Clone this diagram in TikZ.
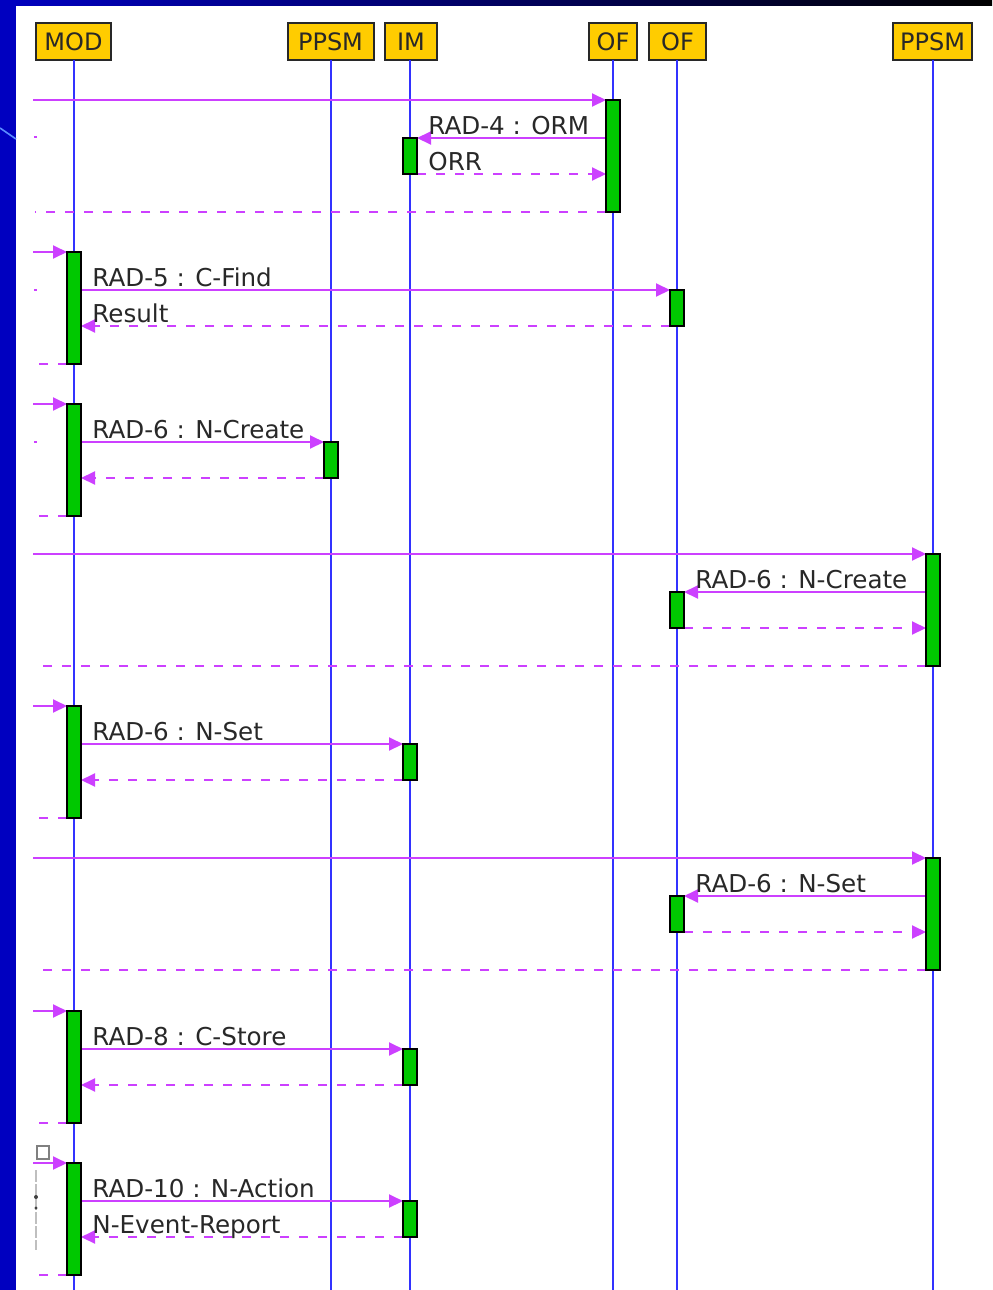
\documentclass[tikz,border=0pt]{standalone}
\usepackage{fontspec}
\setmainfont{DejaVu Sans}
\usetikzlibrary{arrows.meta}
\definecolor{bgblue}{RGB}{0,0,192}
\definecolor{hdrfill}{RGB}{255,204,0}
\definecolor{hdrline}{RGB}{40,40,40}
\definecolor{lifeblue}{RGB}{50,50,255}
\definecolor{msgmag}{RGB}{204,64,255}
\definecolor{actgreen}{RGB}{0,200,0}
\definecolor{txtgray}{RGB}{40,40,40}
\definecolor{streak}{RGB}{90,140,255}
\tikzset{
  hdr/.style={draw=hdrline, fill=hdrfill, line width=1pt, inner sep=0pt, minimum height=18.5pt,
              font=\fontsize{12pt}{14pt}\selectfont, text=txtgray},
  life/.style={draw=lifeblue, line width=1pt},
  act/.style={draw=black, fill=actgreen, line width=1pt, minimum width=7pt, inner sep=0pt, outer sep=0pt},
  longact/.style={act, minimum height=56pt},
  shortact/.style={act, minimum height=18pt},
  msg/.style={draw=msgmag, line width=1pt, -{Triangle[length=7pt,width=6.5pt]}},
  ret/.style={msg, dash pattern=on 4.5pt off 5pt},
  retplain/.style={draw=msgmag, line width=1pt, dash pattern=on 4.5pt off 5pt},
  lbl/.style={anchor=base west, inner sep=0pt, text=txtgray, font=\fontsize{12.3pt}{14pt}\selectfont},
  speck/.style={draw=msgmag, line width=1pt}
}
\begin{document}
\begin{tikzpicture}[x=0.5pt,y=-0.5pt]
\useasboundingbox (0,0) rectangle (992,1290);
% slide background
\fill[white] (0,0) rectangle (992,1290);
\shade[left color=bgblue, right color=black] (0,0) rectangle (992,5);
\fill[bgblue] (0,0) rectangle (16,1290);
\draw[streak, line width=0.8pt] (0,128) -- (16,139);

% headers
\node[hdr, minimum width=37.5pt] (mod) at (73.5,41.5) {MOD};
\node[hdr, minimum width=43pt] (ppsm1) at (330.5,41.5) {PPSM};
\node[hdr, minimum width=26pt] (im) at (411,41.5) {IM};
\node[hdr, minimum width=24pt] (of1) at (613,41.5) {OF};
\node[hdr, minimum width=28.5pt] (of2) at (677.5,41.5) {OF};
\node[hdr, minimum width=39.5pt] (ppsm2) at (932.5,41.5) {PPSM};

% lifeline ends
\coordinate (modE) at (74,1290);
\coordinate (ppsm1E) at (331,1290);
\coordinate (imE) at (410,1290);
\coordinate (of1E) at (613,1290);
\coordinate (of2E) at (677,1290);
\coordinate (ppsm2E) at (933,1290);
\draw[life] (74,60) -- (modE);
\draw[life] (331,60) -- (ppsm1E);
\draw[life] (410,60) -- (imE);
\draw[life] (613,60) -- (of1E);
\draw[life] (677,60) -- (of2E);
\draw[life] (933,60) -- (ppsm2E);

% activations
\node[longact] (b1a) at (613,156) {};
\node[shortact] (b1b) at (410,156) {};
\node[longact] (b2a) at (74,308) {};
\node[shortact] (b2b) at (677,308) {};
\node[longact] (b3a) at (74,460) {};
\node[shortact] (b3b) at (331,460) {};
\node[longact] (b4a) at (933,610) {};
\node[shortact] (b4b) at (677,610) {};
\node[longact] (b5a) at (74,762) {};
\node[shortact] (b5b) at (410,762) {};
\node[longact] (b6a) at (933,914) {};
\node[shortact] (b6b) at (677,914) {};
\node[longact] (b7a) at (74,1067) {};
\node[shortact] (b7b) at (410,1067) {};
\node[longact] (b8a) at (74,1219) {};
\node[shortact] (b8b) at (410,1219) {};

% free ends (left margin)
\coordinate (f1) at (33,100);   \coordinate (r1) at (35,212);
\coordinate (f2) at (33,252);   \coordinate (r2) at (35,364);
\coordinate (f3) at (33,404);   \coordinate (r3) at (35,516);
\coordinate (f4) at (33,554);   \coordinate (r4) at (35,666);
\coordinate (f5) at (33,706);   \coordinate (r5) at (35,818);
\coordinate (f6) at (33,858);   \coordinate (r6) at (35,970);
\coordinate (f7) at (33,1011);  \coordinate (r7) at (35,1123);
\coordinate (f8) at (33,1163);  \coordinate (r8) at (35,1275);

% block 1
\draw[msg] (f1) -- (b1a.north west);
\draw[msg] (b1a.west |- b1b.north east) -- (b1b.north east);
\draw[ret] (b1b.south east) -- (b1a.west |- b1b.south east);
\draw[retplain] (b1a.south west) -- (b1a.south west -| r1);
% block 2
\draw[msg] (f2) -- (b2a.north west);
\draw[msg] (b2a.east |- b2b.north west) -- (b2b.north west);
\draw[ret] (b2b.south west) -- (b2a.east |- b2b.south west);
\draw[retplain] (b2a.south west) -- (b2a.south west -| r2);
% block 3
\draw[msg] (f3) -- (b3a.north west);
\draw[msg] (b3a.east |- b3b.north west) -- (b3b.north west);
\draw[ret] (b3b.south west) -- (b3a.east |- b3b.south west);
\draw[retplain] (b3a.south west) -- (b3a.south west -| r3);
% block 4
\draw[msg] (f4) -- (b4a.north west);
\draw[msg] (b4a.west |- b4b.north east) -- (b4b.north east);
\draw[ret] (b4b.south east) -- (b4a.west |- b4b.south east);
\draw[retplain] (b4a.south west) -- (b4a.south west -| r4);
% block 5
\draw[msg] (f5) -- (b5a.north west);
\draw[msg] (b5a.east |- b5b.north west) -- (b5b.north west);
\draw[ret] (b5b.south west) -- (b5a.east |- b5b.south west);
\draw[retplain] (b5a.south west) -- (b5a.south west -| r5);
% block 6
\draw[msg] (f6) -- (b6a.north west);
\draw[msg] (b6a.west |- b6b.north east) -- (b6b.north east);
\draw[ret] (b6b.south east) -- (b6a.west |- b6b.south east);
\draw[retplain] (b6a.south west) -- (b6a.south west -| r6);
% block 7
\draw[msg] (f7) -- (b7a.north west);
\draw[msg] (b7a.east |- b7b.north west) -- (b7b.north west);
\draw[ret] (b7b.south west) -- (b7a.east |- b7b.south west);
\draw[retplain] (b7a.south west) -- (b7a.south west -| r7);
% block 8
\draw[msg] (f8) -- (b8a.north west);
\draw[msg] (b8a.east |- b8b.north west) -- (b8b.north west);
\draw[ret] (b8b.south west) -- (b8a.east |- b8b.south west);
\draw[retplain] (b8a.south west) -- (b8a.south west -| r8);

% redraw activations on top of line ends
\foreach \n in {b1a,b1b,b2a,b2b,b3a,b3b,b4a,b4b,b5a,b5b,b6a,b6b,b7a,b7b,b8a,b8b}{
  \draw[draw=black, fill=actgreen, line width=1pt] (\n.north west) rectangle (\n.south east);
}

% labels
\node[lbl] (l1) at ([xshift=5.5pt,yshift=2pt]b1b.north east) {RAD-4 : ORM};
\node[lbl] (l2) at ([xshift=5.5pt,yshift=2pt]b1b.south east) {ORR};
\node[lbl] (l3) at ([xshift=5.5pt,yshift=2pt]b2a.east |- b2b.north west) {RAD-5 : C-Find};
\node[lbl] (l4) at ([xshift=5.5pt,yshift=2pt]b2a.east |- b2b.south west) {Result};
\node[lbl] (l5) at ([xshift=5.5pt,yshift=2pt]b3a.east |- b3b.north west) {RAD-6 : N-Create};
\node[lbl] (l6) at ([xshift=5.5pt,yshift=2pt]b4b.north east) {RAD-6 : N-Create};
\node[lbl] (l7) at ([xshift=5.5pt,yshift=2pt]b5a.east |- b5b.north west) {RAD-6 : N-Set};
\node[lbl] (l8) at ([xshift=5.5pt,yshift=2pt]b6b.north east) {RAD-6 : N-Set};
\node[lbl] (l9) at ([xshift=5.5pt,yshift=2pt]b7a.east |- b7b.north west) {RAD-8 : C-Store};
\node[lbl] (l10) at ([xshift=5.5pt,yshift=2pt]b8a.east |- b8b.north west) {RAD-10 : N-Action};
\node[lbl] (l11) at ([xshift=5.5pt,yshift=2pt]b8a.east |- b8b.south west) {N-Event-Report};

% tiny specks at the left margin
\draw[speck] (34,137) -- (37,137);
\draw[speck] (34,290) -- (37,290);
\draw[speck] (34,442) -- (37,442);

% small gray marks near the last block
\draw[gray, line width=0.6pt] (37,1146) rectangle (49,1159);
\draw[lightgray, line width=1pt, dash pattern=on 6pt off 1pt] (36,1170) -- (36,1250);
\fill[darkgray] (36,1197) circle (1pt);
\fill[darkgray] (36,1208) circle (0.8pt);
\end{tikzpicture}
\end{document}
